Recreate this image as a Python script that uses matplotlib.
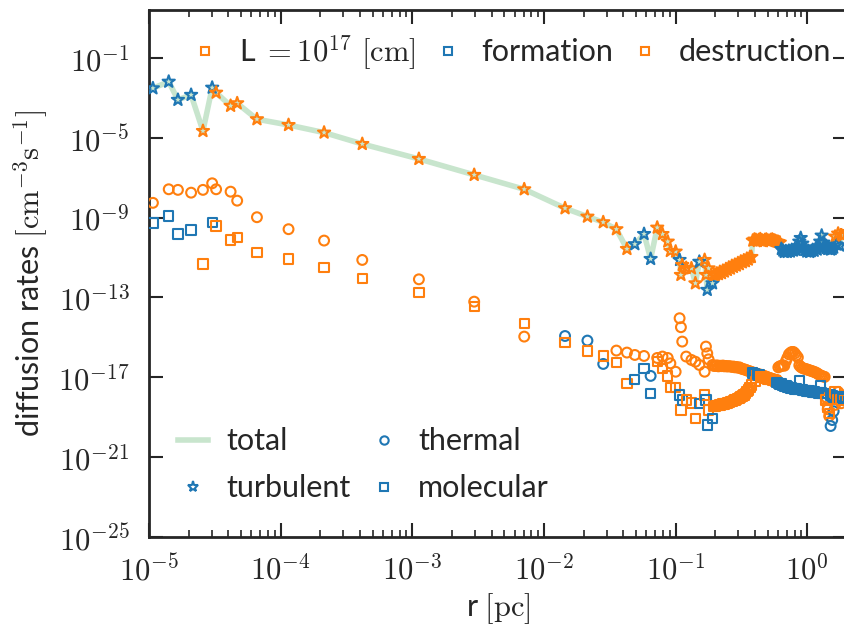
import numpy as np
import matplotlib
matplotlib.use('Agg')
import matplotlib.pyplot as plt
from matplotlib.lines import Line2D
from matplotlib.ticker import LogLocator, FixedLocator, FuncFormatter, NullLocator

plt.rcParams['font.family'] = ['Lato', 'DejaVu Sans']
plt.rcParams['mathtext.fontset'] = 'cm'

# ---- data: log10 of radius [pc] and log10 of |rate| [cm^-3 s^-1] ----
log_r = [-4.97, -4.85, -4.78, -4.68, -4.59, -4.52, -4.49, -4.38, -4.33, -4.18,
         -3.94, -3.67, -3.38, -2.95, -2.53, -2.15, -1.84, -1.67, -1.55, -1.45,
         -1.37, -1.31, -1.24, -1.19, -1.14,
         -1.10, -1.06, -1.04, -1.00, -0.97, -0.96, -0.95, -0.92, -0.88, -0.85,
         -0.82, -0.78, -0.77, -0.76, -0.75, -0.72, -0.71,
         -0.698, -0.687, -0.675, -0.664, -0.652, -0.641, -0.630, -0.618, -0.607, -0.596,
         -0.584, -0.573, -0.561, -0.550, -0.539, -0.527, -0.516, -0.505, -0.493, -0.482,
         -0.470, -0.459, -0.448, -0.436, -0.425, -0.414, -0.402, -0.391, -0.379, -0.368,
         -0.357, -0.345, -0.334, -0.322, -0.311, -0.300, -0.288, -0.277, -0.266, -0.254,
         -0.243, -0.231, -0.220, -0.209, -0.197, -0.186, -0.175, -0.163, -0.152, -0.140,
         -0.129, -0.118, -0.106, -0.095, -0.084, -0.072, -0.061, -0.050, -0.038, -0.027,
         -0.015, -0.004, 0.007, 0.018, 0.030, 0.041, 0.052, 0.064, 0.075, 0.086,
         0.098, 0.109, 0.121, 0.132, 0.143, 0.155, 0.166, 0.177, 0.189, 0.200,
         0.211, 0.223, 0.234, 0.246, 0.257, 0.268]

turb_exp = [-2.52, -2.19, -3.10, -2.85, -4.66, -2.49, -2.74, -3.40, -3.27, -4.07,
            -4.36, -4.74, -5.31, -6.06, -6.86, -7.58, -8.53, -8.95, -9.23, -9.58,
            -10.57, -10.33, -9.82, -11.07, -9.50,
            -9.82, -10.20, -10.67, -10.70, -11.12, -11.87, -11.37, -11.52, -11.54, -12.29,
            -11.21, -11.12, -11.87, -12.62, -11.54, -12.29, -11.87,
            -11.87, -11.80, -11.83, -11.72, -11.78, -11.66, -11.70, -11.58, -11.62, -11.50,
            -11.55, -11.42, -11.47, -11.36, -11.40, -11.28, -11.33, -11.20, -11.24, -11.14,
            -11.18, -11.06, -11.10, -10.98, -10.97, -10.15, -10.10, -10.12, -10.17, -10.12,
            -10.08, -10.14, -10.18, -10.12, -10.10, -10.15, -10.17, -10.12, -10.10, -10.14,
            -10.17, -10.20, -10.22, -10.25, -10.57, -10.65, -10.72, -10.68, -10.72, -10.66,
            -10.70, -10.62, -10.65, -10.58, -10.62, -10.45, -10.20, -10.02, -10.30, -10.50,
            -10.62, -10.70, -10.67, -10.72, -10.68, -10.62, -10.66, -10.55, -10.60, -10.45,
            -10.20, -9.90, -10.25, -10.45, -10.52, -10.57, -10.55, -10.60, -10.57, -10.50,
            -9.95, -10.35, -9.80, -10.40, -9.85, -9.90]
# f = formation (drawn blue), d = destruction (drawn orange)
turb_kind = ("ffffdfdddd" "dddddddddd" "dfffd"
             "ddddfddddd" "fddfdfd"
             "dddddddddd" "dddddddddd" "dddddddddd" "dddddddddd" "dddd"
             "ffffffffff" "ffffffffff" "ffffffffff" "ffffff"
             "dfdfdd")

therm_exp = [-8.26, -7.58, -7.61, -7.75, -7.61, -7.28, -7.58, -7.70, -8.15, -8.98,
             -9.58, -10.15, -11.12, -12.09, -13.21, -14.96, -14.93, -15.16, -16.33, -15.66,
             -15.76, -15.88, -15.93, -16.93, -16.03,
             -15.96, -16.03, -16.30, -16.72, -14.04, -14.49, -15.21, -15.96, -16.13, -16.22,
             -16.38, -16.72, -15.46, -15.80, -16.10, -16.38, -16.43,
             -16.43, -16.40, -16.45, -16.42, -16.44, -16.41, -16.45, -16.43, -16.46, -16.44,
             -16.45, -16.48, -16.46, -16.50, -16.48, -16.52, -16.50, -16.55, -16.58, -16.60,
             -16.62, -16.65, -16.68, -16.70, -16.73, -16.76, -16.78, -16.80, -16.83, -16.85,
             -16.87, -16.90, -16.92, -16.95, -16.97, -17.00, -17.03, -17.05, -17.08, -17.10,
             -17.13, -17.13, -16.50, -16.45, -16.43, -16.40, -16.42, -16.20, -16.03, -15.85,
             -15.78, -15.73, -15.73, -15.80, -15.90, -16.00, -16.40, -16.48, -16.53, -16.56,
             -16.58, -16.60, -16.63, -16.65, -16.68, -16.70, -16.73, -16.76, -16.80, -16.85,
             -16.90, -16.93, -16.96, -16.98, -18.00, -18.60, -18.94, -19.44, -19.14, -18.70,
             -18.38, -18.00, -17.73, -18.03, -18.30, -17.90]
therm_kind = ("dddddddddd" "ddddddfffd" "dddfd"
              "dddddddddd" "ddddddd"
              "dddddddddd" "dddddddddd" "dddddddddd" "dddddddddd"
              "dddddddddd" "dddddddddd" "dddddddddd" "ddddddd"
              "fff" "dddfdd")

mol_exp = [-9.27, -8.92, -9.82, -9.62, -11.32, -9.23, -9.42, -10.12, -9.98, -10.75,
           -11.07, -11.49, -12.04, -12.76, -13.46, -14.29, -15.26, -15.68, -15.93, -16.27,
           -17.30, -17.10, -16.55, -17.80, -16.22,
           -16.55, -16.93, -17.50, -17.50, -17.88, -18.64, -18.13, -18.13, -18.28, -19.05,
           -18.30, -17.88, -18.13, -19.39, -18.64, -19.05, -18.47,
           -18.43, -18.41, -18.40, -18.38, -18.36, -18.34, -18.33, -18.30, -18.28, -18.25,
           -18.22, -18.20, -18.17, -18.13, -18.10, -18.06, -18.03, -17.98, -17.93, -17.88,
           -17.80, -17.72, -17.63, -17.50, -17.38, -16.78, -16.80, -17.20, -16.85, -16.88,
           -16.98, -17.00, -17.02, -17.05, -17.06, -17.08, -17.10, -17.12, -17.14, -17.16,
           -17.18, -17.25, -17.30, -17.33, -17.33, -17.40, -17.45, -17.42, -17.48, -17.50,
           -17.53, -17.50, -17.55, -17.58, -17.56, -17.60, -17.18, -17.62, -17.63, -17.66,
           -17.65, -17.68, -17.70, -17.68, -17.72, -17.74, -17.73, -17.76, -17.75, -17.78,
           -17.43, -17.78, -17.80, -17.82, -18.13, -18.50, -18.80, -17.88, -17.93, -18.00,
           -17.73, -17.95, -18.10, -17.98, -18.13, -18.05]
mol_kind = ("ffffdfdddd" "dddddddddd" "dfffd"
            "ddddfdfddd" "fdffdfd"
            "dddddddddd" "dddddddddd" "ddddd" "ffdff" "dddddddddd" "d" "fff"
            "ffffffffff" "ffffffffff" "ffffffffff"
            "dddfff" "dfdfdf")

BLUE = '#1f77b4'
ORANGE = '#ff7f0e'
GREEN = '#c8e5cd'
DARK = '#262626'

for name, a, k in (('turb', turb_exp, turb_kind), ('therm', therm_exp, therm_kind),
                   ('mol', mol_exp, mol_kind)):
    if not (len(a) == len(k) == len(log_r)):
        raise ValueError('%s: %d %d %d' % (name, len(a), len(k), len(log_r)))


def signed(exps, kinds):
    s = np.array([1.0 if k == 'f' else -1.0 for k in kinds])
    return s * 10.0 ** np.array(exps)


r = 10.0 ** np.array(log_r)
turb = signed(turb_exp, turb_kind)
therm = signed(therm_exp, therm_kind)
mol = signed(mol_exp, mol_kind)
total = np.abs(turb + therm + mol)


def colors(vals):
    return [BLUE if v > 0 else ORANGE for v in vals]


fig = plt.figure(figsize=(8.44, 6.30), dpi=100)
ax = fig.add_axes([0.1765, 0.1476, 0.827, 0.8365])

ax.plot(r, total, color=GREEN, lw=4.0, zorder=1, solid_capstyle='round')
ax.scatter(r, np.abs(turb), marker='*', s=85, facecolors='none',
           edgecolors=colors(turb), linewidths=1.5, zorder=3)
ax.scatter(r, np.abs(therm), marker='o', s=50, facecolors='none',
           edgecolors=colors(therm), linewidths=1.5, zorder=3)
ax.scatter(r, np.abs(mol), marker='s', s=45, facecolors='none',
           edgecolors=colors(mol), linewidths=1.5, zorder=3)

ax.set_xscale('log')
ax.set_yscale('log')
ax.set_xlim(1e-5, 2.0)
ax.set_ylim(1e-25, 10 ** 1.4)

ax.xaxis.set_major_locator(LogLocator(base=10, numticks=20))
ax.xaxis.set_minor_locator(LogLocator(base=10, subs=np.arange(2, 10), numticks=50))
ax.yaxis.set_major_locator(FixedLocator([1e-25, 1e-21, 1e-17, 1e-13, 1e-9, 1e-5, 1e-1]))
ax.yaxis.set_minor_locator(NullLocator())


def fmt(v, pos):
    e = int(round(np.log10(v)))
    return r'$10^{%d}$' % e


ax.xaxis.set_major_formatter(FuncFormatter(fmt))
ax.yaxis.set_major_formatter(FuncFormatter(fmt))

for s in ax.spines.values():
    s.set_linewidth(2.0)
    s.set_color(DARK)
ax.tick_params(which='both', direction='in', top=True, right=True, colors=DARK,
               labelsize=22, width=1.5)
ax.tick_params(which='major', length=10)
ax.tick_params(which='minor', length=5, width=1.2)
ax.tick_params(axis='x', which='major', pad=12)
ax.tick_params(axis='y', which='major', pad=14)

ax.set_xlabel(r'r $[\mathrm{pc}]$', fontsize=22, color=DARK, labelpad=4)
ax.set_ylabel(r'diffusion rates $[\mathrm{cm}^{-3}\mathrm{s}^{-1}]$', fontsize=22,
              color=DARK, labelpad=6)

# top legend: length scale and colour meaning
h_top = [Line2D([], [], ls='none', marker='s', ms=6, mfc='none', mec=ORANGE, mew=1.5),
         Line2D([], [], ls='none', marker='s', ms=6, mfc='none', mec=BLUE, mew=1.5),
         Line2D([], [], ls='none', marker='s', ms=6, mfc='none', mec=ORANGE, mew=1.5)]
lab_top = [r'L $= 10^{17}\ [\mathrm{cm}]$', 'formation', 'destruction']
leg1 = ax.legend(h_top, lab_top, ncol=3, loc='center left', bbox_to_anchor=(0.059, 0.92),
                 frameon=False, fontsize=22, handlelength=1.0, handletextpad=0.6,
                 columnspacing=0.55, borderpad=0, borderaxespad=0)
ax.add_artist(leg1)

# bottom legend: mechanisms
h_bot = [Line2D([], [], color=GREEN, lw=4.0),
         Line2D([], [], ls='none', marker='*', ms=8, mfc='none', mec=BLUE, mew=1.5),
         Line2D([], [], ls='none', marker='o', ms=6, mfc='none', mec=BLUE, mew=1.5),
         Line2D([], [], ls='none', marker='s', ms=6, mfc='none', mec=BLUE, mew=1.5)]
lab_bot = ['total', 'turbulent', 'thermal', 'molecular']
leg2 = ax.legend(h_bot, lab_bot, ncol=2, loc='center left', bbox_to_anchor=(0.041, 0.137),
                 frameon=False, fontsize=22, handlelength=1.0, handletextpad=0.6,
                 columnspacing=0.6, borderpad=0, borderaxespad=0, labelspacing=0.62)
for t in list(leg1.get_texts()) + list(leg2.get_texts()):
    t.set_color(DARK)

fig.savefig('out.png', dpi=100)
